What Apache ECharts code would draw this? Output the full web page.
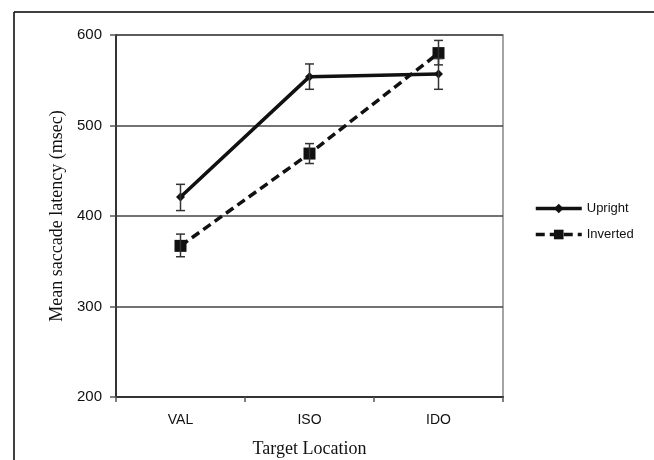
<!DOCTYPE html>
<html>
<head>
	<meta charset="utf-8">
	<title>Mean saccade latency</title>
	<script src="https://cdn.jsdelivr.net/npm/echarts@6/dist/echarts.min.js"></script>
	<style>
		html, body { margin: 0; padding: 0; background: #fff; }
		#chart { width: 654px; height: 460px; }
	</style>
</head>
<body>
	<div id="chart"></div>
	<script type="text/javascript">
	var categories = ['VAL', 'ISO', 'IDO'];
	var yTicks = [200, 300, 400, 500, 600];

	var uprightMean = [421, 554, 557];
	var uprightLow = [406, 540, 540];
	var uprightHigh = [435, 568, 574];

	var invertedMean = [367, 469, 580];
	var invertedLow = [355, 458, 567];
	var invertedHigh = [380, 480, 594];

	var myChart = echarts.init(document.getElementById('chart'));

	function errData(low, high) {
		var out = [];
		for (var i = 0; i < low.length; i++) {
			out.push([i, low[i], high[i]]);
		}
		return out;
	}

	// 误差线
	function renderErr(params, api) {
		var x = api.value(0);
		var top = api.coord([x, api.value(2)]);
		var bot = api.coord([x, api.value(1)]);
		var half = 4.5;
		var style = { stroke: '#333', lineWidth: 1.5 };
		return {
			type: 'group',
			children: [
				{ type: 'line', shape: { x1: top[0], y1: top[1], x2: bot[0], y2: bot[1] }, style: style },
				{ type: 'line', shape: { x1: top[0] - half, y1: top[1], x2: top[0] + half, y2: top[1] }, style: style },
				{ type: 'line', shape: { x1: bot[0] - half, y1: bot[1], x2: bot[0] + half, y2: bot[1] }, style: style }
			]
		};
	}

	var option = {
		backgroundColor: '#fff',
		animation: false,
		graphic: [
			{ type: 'line', shape: { x1: 14, y1: 12, x2: 654, y2: 12 }, style: { stroke: '#000', lineWidth: 1.5 } },
			{ type: 'line', shape: { x1: 14, y1: 12, x2: 14, y2: 460 }, style: { stroke: '#000', lineWidth: 1.5 } }
		],
		grid: {
			left: 116,
			right: 151,
			top: 35,
			bottom: 63,
			outerBoundsMode: 'none',
			show: true,
			borderColor: '#888',
			borderWidth: 1.5
		},
		legend: {
			orient: 'vertical',
			left: 529,
			top: 197,
			itemWidth: 46,
			itemHeight: 12,
			itemGap: 13,
			lineStyle: { width: 3.5 },
			textStyle: {
				fontFamily: 'Liberation Sans',
				fontSize: 13,
				color: '#111'
			},
			data: ['Upright', 'Inverted']
		},
		xAxis: {
			type: 'category',
			data: categories,
			boundaryGap: true,
			name: 'Target Location',
			nameLocation: 'middle',
			nameGap: 43,
			nameTextStyle: {
				fontFamily: 'Liberation Serif',
				fontSize: 18,
				color: '#111'
			},
			axisLine: {
				lineStyle: { color: '#333', width: 2 }
			},
			axisTick: {
				show: true,
				length: 5,
				lineStyle: { color: '#555', width: 1.5 }
			},
			axisLabel: {
				fontFamily: 'Liberation Sans',
				fontSize: 14,
				color: '#111',
				margin: 16
			}
		},
		yAxis: {
			type: 'value',
			min: yTicks[0],
			max: yTicks[yTicks.length - 1],
			interval: 100,
			name: 'Mean saccade latency (msec)',
			nameLocation: 'middle',
			nameGap: 50,
			nameTextStyle: {
				fontFamily: 'Liberation Serif',
				fontSize: 18,
				color: '#111'
			},
			axisLine: {
				show: true,
				lineStyle: { color: '#333', width: 2 }
			},
			axisTick: {
				show: true,
				length: 6,
				lineStyle: { color: '#555', width: 1.5 }
			},
			axisLabel: {
				fontFamily: 'Liberation Sans',
				fontSize: 15,
				color: '#111',
				margin: 14
			},
			splitLine: {
				lineStyle: { color: '#444', width: 1.5 }
			}
		},
		series: [{
			name: 'Upright',
			type: 'line',
			data: uprightMean,
			symbol: 'diamond',
			symbolSize: 9,
			itemStyle: { color: '#111' },
			lineStyle: { color: '#111', width: 3.5 },
			z: 3
		}, {
			name: 'Inverted',
			type: 'line',
			data: invertedMean,
			symbol: 'rect',
			symbolSize: 12,
			itemStyle: { color: '#111' },
			lineStyle: { color: '#111', width: 3.5, type: [9, 5] },
			z: 3
		}, {
			type: 'custom',
			renderItem: renderErr,
			data: errData(uprightLow, uprightHigh),
			z: 4
		}, {
			type: 'custom',
			renderItem: renderErr,
			data: errData(invertedLow, invertedHigh),
			z: 4
		}]
	};
	myChart.setOption(option);
	</script>
</body>
</html>
